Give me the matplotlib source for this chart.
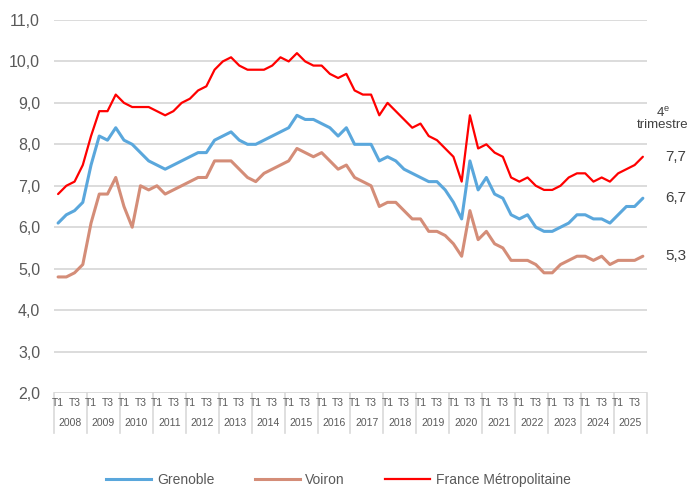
import matplotlib.pyplot as plt
import matplotlib.transforms as mtransforms
from matplotlib.lines import Line2D

plt.rcParams["font.family"] = ["Liberation Sans", "DejaVu Sans"]
plt.rcParams["mathtext.fontset"] = "custom"
plt.rcParams["mathtext.rm"] = "Liberation Sans"

years = list(range(2008, 2026))
quarter_labels = ["T1", "T3"]

grenoble = [6.1, 6.3, 6.4, 6.6, 7.5, 8.2, 8.1, 8.4, 8.1, 8.0, 7.8, 7.6,
            7.5, 7.4, 7.5, 7.6, 7.7, 7.8, 7.8, 8.1, 8.2, 8.3, 8.1, 8.0,
            8.0, 8.1, 8.2, 8.3, 8.4, 8.7, 8.6, 8.6, 8.5, 8.4, 8.2, 8.4,
            8.0, 8.0, 8.0, 7.6, 7.7, 7.6, 7.4, 7.3, 7.2, 7.1, 7.1, 6.9,
            6.6, 6.2, 7.6, 6.9, 7.2, 6.8, 6.7, 6.3, 6.2, 6.3, 6.0, 5.9,
            5.9, 6.0, 6.1, 6.3, 6.3, 6.2, 6.2, 6.1, 6.3, 6.5, 6.5, 6.7]

voiron = [4.8, 4.8, 4.9, 5.1, 6.1, 6.8, 6.8, 7.2, 6.5, 6.0, 7.0, 6.9,
          7.0, 6.8, 6.9, 7.0, 7.1, 7.2, 7.2, 7.6, 7.6, 7.6, 7.4, 7.2,
          7.1, 7.3, 7.4, 7.5, 7.6, 7.9, 7.8, 7.7, 7.8, 7.6, 7.4, 7.5,
          7.2, 7.1, 7.0, 6.5, 6.6, 6.6, 6.4, 6.2, 6.2, 5.9, 5.9, 5.8,
          5.6, 5.3, 6.4, 5.7, 5.9, 5.6, 5.5, 5.2, 5.2, 5.2, 5.1, 4.9,
          4.9, 5.1, 5.2, 5.3, 5.3, 5.2, 5.3, 5.1, 5.2, 5.2, 5.2, 5.3]

france = [6.8, 7.0, 7.1, 7.5, 8.2, 8.8, 8.8, 9.2, 9.0, 8.9, 8.9, 8.9,
          8.8, 8.7, 8.8, 9.0, 9.1, 9.3, 9.4, 9.8, 10.0, 10.1, 9.9, 9.8,
          9.8, 9.8, 9.9, 10.1, 10.0, 10.2, 10.0, 9.9, 9.9, 9.7, 9.6, 9.7,
          9.3, 9.2, 9.2, 8.7, 9.0, 8.8, 8.6, 8.4, 8.5, 8.2, 8.1, 7.9,
          7.7, 7.1, 8.7, 7.9, 8.0, 7.8, 7.7, 7.2, 7.1, 7.2, 7.0, 6.9,
          6.9, 7.0, 7.2, 7.3, 7.3, 7.1, 7.2, 7.1, 7.3, 7.4, 7.5, 7.7]

last_labels = ["7,7", "6,7", "5,3"]
last_values = [france[-1], grenoble[-1], voiron[-1]]

c_gre = "#5aa7dc"
c_voi = "#d48d78"
c_fra = "#ff0000"
grey = "#595959"

fig = plt.figure(figsize=(6.91, 4.91), dpi=100)
ax = fig.add_axes([0.0781, 0.1996, 0.8582, 0.7597])

x = list(range(len(grenoble)))
ax.plot(x, grenoble, color=c_gre, lw=2.2, solid_capstyle="round")
ax.plot(x, voiron, color=c_voi, lw=2.2, solid_capstyle="round")
ax.plot(x, france, color=c_fra, lw=1.6, solid_capstyle="round")

ax.set_xlim(-0.5, len(x) - 0.5)
ax.set_ylim(2, 11)
ax.set_yticks(range(2, 12))
ax.set_yticklabels([f"{v},0" for v in range(2, 12)], fontsize=11.5, color=grey)
ax.tick_params(axis="y", length=0, pad=10)
ax.set_xticks([])
ax.grid(axis="y", color="#d9d9d9", lw=1.3)
ax.set_axisbelow(True)
for s in ax.spines.values():
    s.set_visible(False)

# category axis: quarters, years and separators
trans = mtransforms.blended_transform_factory(ax.transData, ax.transAxes)
for k, yr in enumerate(years):
    for j, q in enumerate(quarter_labels):
        ax.text(4 * k + 2 * j, -0.028, q, transform=trans, ha="center", va="center",
                fontsize=7.5, color=grey)
    ax.text(4 * k + 1.5, -0.08, str(yr), transform=trans, ha="center", va="center",
            fontsize=7.5, color=grey)
for k in range(len(years) + 1):
    ax.plot([4 * k - 0.5, 4 * k - 0.5], [0, -0.107], transform=trans, color="#d9d9d9",
            lw=1.2, clip_on=False)

# right-hand annotations
ax.text(73.4, 8.62, "4$^{\\mathregular{e}}$\ntrimestre", ha="center", va="center",
        fontsize=9.5, color="#404040", clip_on=False, linespacing=0.95)
for lab, v in zip(last_labels, last_values):
    ax.text(75.0, v, lab, ha="center", va="center", fontsize=11, color="#404040", clip_on=False)

handles = [Line2D([], [], color=c_gre, lw=2.2),
           Line2D([], [], color=c_voi, lw=2.2),
           Line2D([], [], color=c_fra, lw=1.6)]
fig.legend(handles, ["Grenoble", "Voiron", "France Métropolitaine"], loc="lower center",
           bbox_to_anchor=(0.49, -0.018), ncol=3, frameon=False, fontsize=10,
           handlelength=3.25, handletextpad=0.4, columnspacing=2.9, labelcolor=grey)

fig.savefig("out.png", dpi=100)
